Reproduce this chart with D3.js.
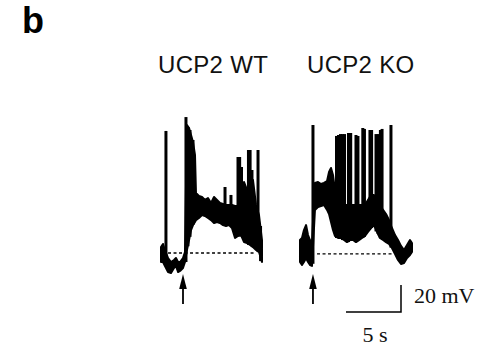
<!DOCTYPE html>
<html>
<head>
<meta charset="utf-8">
<script src="https://cdn.jsdelivr.net/npm/d3@7"></script>
<style>
  html, body { margin: 0; padding: 0; background: #fff; }
  svg { display: block; }
  .title { font-family: "Liberation Sans", Arial, sans-serif; font-size: 24px; letter-spacing: 0.3px; fill: #111; }
  .scale-label { font-family: "Liberation Serif", "Times New Roman", serif; font-size: 22px; fill: #111; }
</style>
</head>
<body>
<div id="chart"></div>
<script>
// panel labels
const panelLetter = "b"
const titles = ["UCP2 WT", "UCP2 KO"]

// membrane potential envelope of each trace: [time (s), upper mV, lower mV]
const wtBand = [
  [0.00, -55.6, -66.7], [0.18, -53.3, -66.7], [0.36, -57.8, -69.6], [0.64, -63.7, -74.1],
  [0.91, -66.7, -74.8], [1.18, -65.2, -71.1], [1.36, -63.7, -69.6], [1.55, -66.7, -74.1],
  [1.73, -66.7, -73.3], [2.00, -63.7, -71.1], [2.18, -59.3, -66.7], [2.36, 34.8, -57.8],
  [2.55, 32.6, -50.4], [2.73, 27.4, -43.0], [2.91, 22.2, -39.3], [3.09, 12.6, -37.0],
  [3.18, -15.6, -35.6], [3.45, -17.8, -34.1], [3.73, -18.5, -31.9], [4.00, -20.7, -32.6],
  [4.27, -19.3, -34.1], [4.55, -23.0, -35.6], [4.82, -18.5, -37.8], [5.09, -20.7, -37.0],
  [5.36, -23.0, -37.8], [5.64, -23.7, -39.3], [5.91, -24.4, -40.0], [6.18, -24.4, -39.3],
  [6.45, -24.4, -41.5], [6.73, -25.2, -48.9], [7.00, -25.2, -47.4], [7.27, -20.7, -46.7],
  [7.55, -7.4, -51.9], [7.82, -13.3, -52.6], [8.09, -17.0, -54.1], [8.36, -5.9, -55.6],
  [8.64, -24.4, -57.8], [8.91, -31.9, -59.3], [9.18, -50.4, -66.7]
]
const koBand = [
  [0.09, -50.4, -66.7], [0.27, -48.9, -68.9], [0.45, -43.0, -66.7], [0.64, -39.3, -63.7],
  [0.82, -46.7, -66.7], [1.00, -50.4, -68.9], [1.18, -51.9, -69.6], [1.45, -8.1, -28.1],
  [1.73, -7.4, -25.9], [2.00, -8.9, -25.2], [2.27, -8.1, -24.4], [2.55, -6.7, -28.1],
  [2.73, 0.0, -31.1], [2.91, 3.0, -37.0], [3.09, -2.2, -43.0], [3.27, -13.3, -47.4],
  [3.55, -20.7, -48.9], [3.82, -24.4, -48.9], [4.09, -24.4, -50.4], [4.36, -24.4, -51.9],
  [4.64, -24.4, -50.4], [4.91, -24.4, -50.4], [5.18, -24.4, -51.9], [5.45, -24.4, -50.4],
  [5.73, -24.4, -48.9], [6.00, -24.4, -47.4], [6.27, -20.7, -44.4], [6.55, -17.0, -41.5],
  [6.82, -17.0, -39.3], [7.09, -20.7, -44.4], [7.36, -24.4, -48.9], [7.64, -28.1, -50.4],
  [7.91, -31.1, -51.9], [8.18, -35.6, -53.3], [8.45, -41.5, -56.3], [8.73, -46.7, -60.7],
  [9.00, -50.4, -65.2], [9.27, -54.8, -68.1], [9.55, -57.8, -67.4], [9.82, -54.1, -63.7],
  [10.09, -50.4, -61.5], [10.27, -52.6, -59.3]
]

// action potentials: [time (s), base mV, peak mV]
const wtSpikes = [
  [0.45, -66.7, 30.4], [2.27, -66.7, 40.7], [2.45, -55.0, 33.3], [2.64, -48.0, 31.1],
  [2.91, -39.3, 23.7], [5.82, -38.0, -11.1], [6.36, -40.0, -17.0], [7.00, -47.4, 11.1],
  [7.15, -47.4, 11.1], [7.32, -47.0, 3.7], [7.95, -54.0, 16.3], [8.10, -54.0, 16.3],
  [8.27, -55.0, 1.5], [8.82, -59.0, 16.3], [9.05, -66.0, -40.0]
]
const koSpikes = [
  [1.27, -68.0, 34.8], [3.41, -48.9, 26.7], [3.59, -48.9, 27.4], [3.77, -48.9, 28.1],
  [3.95, -50.4, 28.1], [4.14, -50.4, 28.1], [4.50, -51.9, 28.9], [4.70, -50.4, 28.9],
  [5.18, -51.9, 27.4], [5.36, -50.4, 26.7], [5.80, -48.9, 32.6], [5.95, -48.0, 31.9],
  [6.45, -42.0, 31.1], [6.60, -41.5, 31.1], [7.00, -44.0, 28.1], [7.20, -46.0, 28.1],
  [7.40, -48.9, 31.1], [7.55, -49.0, 31.9], [8.36, -56.0, 34.8]
]

// resting level (dashed) [start s, end s, mV] and stimulus time (arrow)
const wtRest = [0.64, 8.64, -60.0]
const koRest = [1.64, 8.55, -60.7]
const stimTimes = [2.0, 1.27]

// scale bar
const barSeconds = 5
const barMillivolts = 20

const W = 483, H = 352

const svg = d3.select("#chart").append("svg")
  .attr("width", W)
  .attr("height", H)
svg.append("rect").attr("width", W).attr("height", H).attr("fill", "#fff")

// one x scale per trace, shared voltage scale
const xWT = d3.scaleLinear().domain([0, 10]).range([161, 271])
const xKO = d3.scaleLinear().domain([0, 10]).range([299, 409])
const y = d3.scaleLinear().domain([-60, 40]).range([253, 118])

function drawTrace(x, band, spikes, rest, stim) {
  const g = svg.append("g")

  const area = d3.area()
    .x(d => x(d[0]))
    .y0(d => y(d[2]))
    .y1(d => y(d[1]))

  g.append("path")
    .datum(band)
    .attr("d", area)
    .attr("fill", "#000")
    .attr("stroke", "#000")
    .attr("stroke-width", 2)
    .attr("stroke-linejoin", "round")

  g.selectAll("line.spike")
    .data(spikes)
    .join("line")
    .attr("class", "spike")
    .attr("x1", d => x(d[0]))
    .attr("x2", d => x(d[0]))
    .attr("y1", d => y(d[1]))
    .attr("y2", d => y(d[2]))
    .attr("stroke", "#000")
    .attr("stroke-width", 3)

  // resting potential
  g.append("line")
    .attr("x1", x(rest[0]))
    .attr("x2", x(rest[1]))
    .attr("y1", y(rest[2]))
    .attr("y2", y(rest[2]))
    .attr("stroke", "#000")
    .attr("stroke-width", 1.3)
    .attr("stroke-dasharray", "3,2.5")

  // stimulus arrow
  const ax = x(stim)
  g.append("line")
    .attr("x1", ax).attr("x2", ax)
    .attr("y1", 284).attr("y2", 304)
    .attr("stroke", "#000")
    .attr("stroke-width", 1.8)
  g.append("path")
    .attr("d", `M${ax},274 L${ax - 3.8},289 L${ax + 3.8},289 Z`)
    .attr("fill", "#000")
}

drawTrace(xWT, wtBand, wtSpikes, wtRest, stimTimes[0])
drawTrace(xKO, koBand, koSpikes, koRest, stimTimes[1])

// titles
svg.append("text")
  .attr("x", 22).attr("y", 33)
  .style("font-family", "'Liberation Sans', Arial, sans-serif")
  .style("font-weight", "bold")
  .style("font-size", "36px")
  .text(panelLetter)

svg.append("text").attr("class", "title").attr("x", 158).attr("y", 73).text(titles[0])
svg.append("text").attr("class", "title").attr("x", 307).attr("y", 73).text(titles[1])

// scale bar, lengths from the trace scales
const corner = [401, 312]
const barW = xKO(barSeconds) - xKO(0)
const barH = y(-60) - y(-60 + barMillivolts)
svg.append("path")
  .attr("d", `M${corner[0] - barW},${corner[1]} H${corner[0]} V${corner[1] - barH}`)
  .attr("fill", "none")
  .attr("stroke", "#000")
  .attr("stroke-width", 1.5)

svg.append("text").attr("class", "scale-label")
  .attr("x", 414).attr("y", 303)
  .text(barMillivolts + " mV")
svg.append("text").attr("class", "scale-label")
  .attr("x", 375).attr("y", 342)
  .attr("text-anchor", "middle")
  .text(barSeconds + " s")
</script>
</body>
</html>
